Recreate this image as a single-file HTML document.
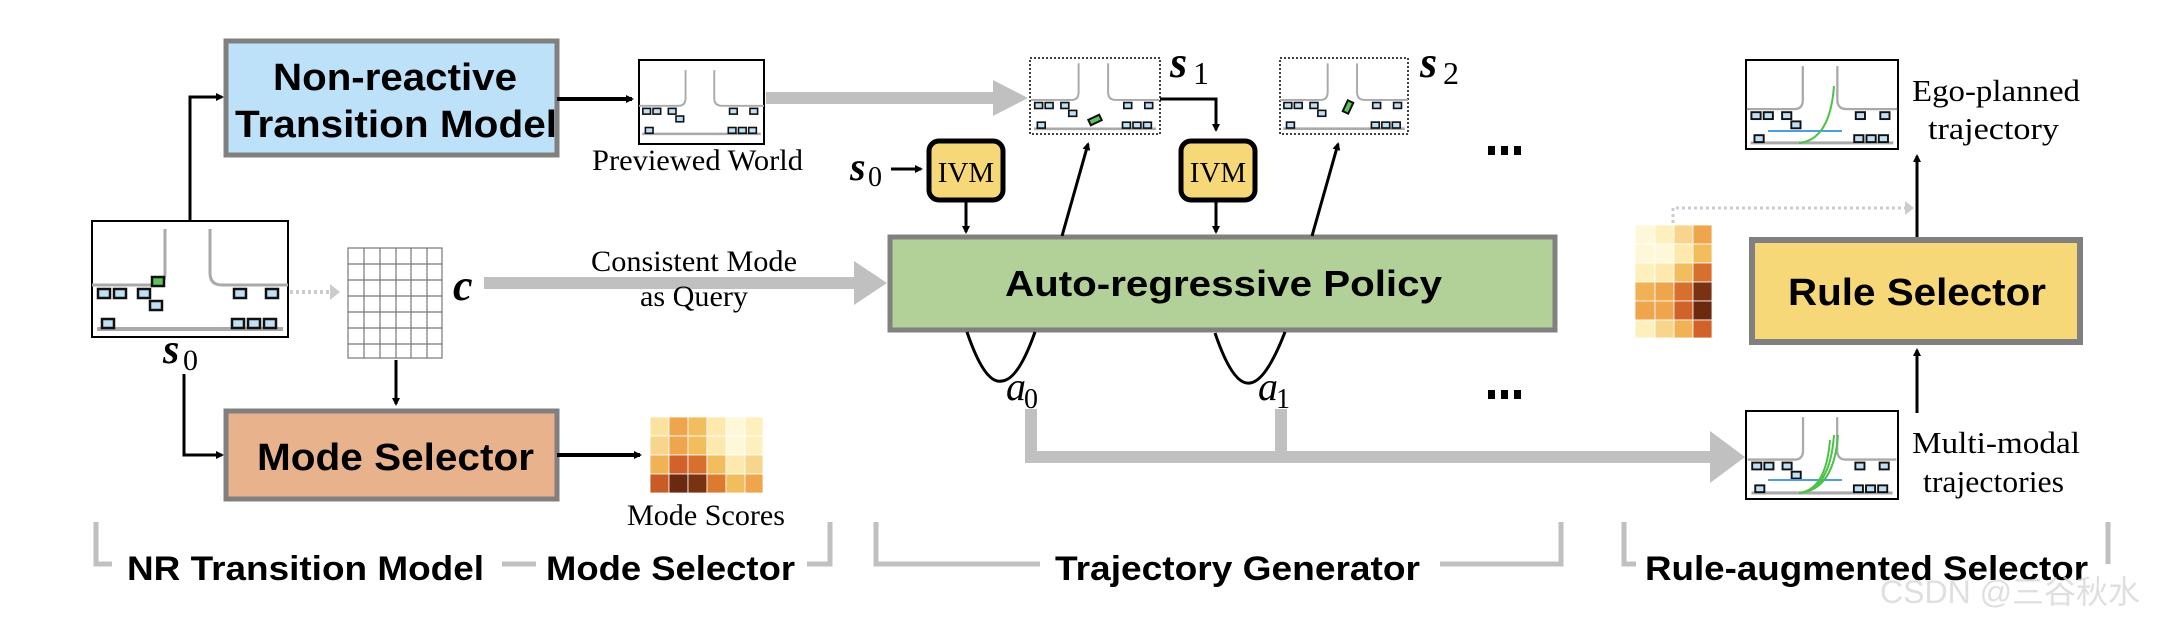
<!DOCTYPE html>
<html><head><meta charset="utf-8"><style>
html,body{margin:0;padding:0;background:#fff}
svg{display:block}
.bx{font-family:"Liberation Sans",sans-serif;font-weight:bold}
.sr{font-family:"Liberation Serif",serif}
</style></head><body>
<svg width="2168" height="620" viewBox="0 0 2168 620" xmlns="http://www.w3.org/2000/svg">
<defs>
<marker id="ah" markerWidth="8" markerHeight="8" refX="6" refY="4" orient="auto" markerUnits="userSpaceOnUse"><path d="M0,0 L8,4 L0,8 z" fill="#000"/></marker>
<symbol id="scene" viewBox="0 0 196 116">
<path d="M73,8 V52 Q73,64 62,64 H0" fill="none" stroke="#aaa" stroke-width="3"/>
<path d="M118,8 V52 Q118,64 130,64 H196" fill="none" stroke="#aaa" stroke-width="3"/>
<line x1="5" y1="108" x2="191" y2="108" stroke="#aaa" stroke-width="4"/>
<g fill="#bfe0f5" stroke="#111" stroke-width="2.5">
<rect x="6" y="68" width="12" height="9"/><rect x="22" y="68" width="12" height="9"/><rect x="46" y="68" width="12" height="9"/>
<rect x="142" y="68" width="12" height="9"/><rect x="174" y="68" width="12" height="9"/>
<rect x="58" y="80" width="12" height="9"/>
<rect x="10" y="98" width="12" height="9"/><rect x="140" y="98" width="12" height="9"/><rect x="156" y="98" width="12" height="9"/><rect x="172" y="98" width="12" height="9"/>
</g>
</symbol>
</defs>

<!-- NR box -->
<rect x="226" y="41" width="331" height="114" fill="#bde1f8" stroke="#808080" stroke-width="5"/>
<text class="bx" x="273" y="90" font-size="38" textLength="244" lengthAdjust="spacingAndGlyphs">Non-reactive</text>
<text class="bx" x="235" y="137" font-size="38" textLength="322" lengthAdjust="spacingAndGlyphs">Transition Model</text>

<!-- Mode selector box -->
<rect x="226" y="411" width="331" height="88" fill="#e8b38c" stroke="#808080" stroke-width="5"/>
<text class="bx" x="257" y="470" font-size="38" textLength="277" lengthAdjust="spacingAndGlyphs">Mode Selector</text>

<!-- s0 scene -->
<rect x="92" y="221" width="196" height="116" fill="#fff" stroke="#000" stroke-width="2"/>
<use href="#scene" x="92" y="221" width="196" height="116"/>
<rect x="152" y="277" width="12" height="9" fill="#5fc25a" stroke="#111" stroke-width="2.5"/>
<text class="sr" x="163" y="363" font-size="42" font-style="italic" font-weight="bold">s</text><text class="sr" x="183" y="370" font-size="30">0</text>

<!-- s0 connectors -->
<path d="M190,221 V97 H222" fill="none" stroke="#000" stroke-width="3" marker-end="url(#ah)"/>
<path d="M184,374 V455 H222" fill="none" stroke="#000" stroke-width="3" marker-end="url(#ah)"/>
<line x1="290" y1="292" x2="330" y2="292" stroke="#ccc" stroke-width="4" stroke-dasharray="3,3"/>
<path d="M330,284 L340,292 L330,300z" fill="#ccc"/>

<!-- grid -->
<g stroke="#777" stroke-width="1.2" fill="none">
<rect x="348" y="248" width="94" height="110"/>
<path d="M364,248V358M380,248V358M396,248V358M411,248V358M427,248V358"/>
<path d="M348,264H442M348,280H442M348,296H442M348,312H442M348,328H442M348,344H442"/>
</g>
<text class="sr" x="453" y="300" font-size="44" font-style="italic" font-weight="bold">c</text>

<line x1="396" y1="360" x2="396" y2="404" stroke="#000" stroke-width="3" marker-end="url(#ah)"/>

<line x1="557" y1="99" x2="632" y2="99" stroke="#000" stroke-width="4" marker-end="url(#ah)"/>
<line x1="557" y1="455" x2="640" y2="455" stroke="#000" stroke-width="4" marker-end="url(#ah)"/>

<!-- previewed world -->
<rect x="639" y="60" width="125" height="84" fill="#fff" stroke="#000" stroke-width="2"/>
<use href="#scene" x="639" y="60" width="125" height="84"/>
<text class="sr" x="592" y="170" font-size="30" textLength="211" lengthAdjust="spacingAndGlyphs">Previewed World</text>

<!-- mode scores -->
<g stroke="#fff" stroke-width="0.8">
<rect x="650" y="417" width="19" height="19" fill="#fbe2a0"/><rect x="669" y="417" width="19" height="19" fill="#eea54c"/><rect x="688" y="417" width="19" height="19" fill="#f2bd5c"/><rect x="707" y="417" width="19" height="19" fill="#fde9ad"/><rect x="726" y="417" width="19" height="19" fill="#fff8d8"/><rect x="745" y="417" width="18" height="19" fill="#fef0bd"/>
<rect x="650" y="436" width="19" height="19" fill="#f8d58c"/><rect x="669" y="436" width="19" height="19" fill="#eea54c"/><rect x="688" y="436" width="19" height="19" fill="#f2bd5c"/><rect x="707" y="436" width="19" height="19" fill="#fde9ad"/><rect x="726" y="436" width="19" height="19" fill="#fff8d8"/><rect x="745" y="436" width="18" height="19" fill="#fef0bd"/>
<rect x="650" y="455" width="19" height="19" fill="#f0b255"/><rect x="669" y="455" width="19" height="19" fill="#d0622a"/><rect x="688" y="455" width="19" height="19" fill="#d6702c"/><rect x="707" y="455" width="19" height="19" fill="#f2bd5c"/><rect x="726" y="455" width="19" height="19" fill="#fde9ad"/><rect x="745" y="455" width="18" height="19" fill="#f8d58c"/>
<rect x="650" y="474" width="19" height="19" fill="#c95c26"/><rect x="669" y="474" width="19" height="19" fill="#6b2a10"/><rect x="688" y="474" width="19" height="19" fill="#7a3312"/><rect x="707" y="474" width="19" height="19" fill="#dc7a30"/><rect x="726" y="474" width="19" height="19" fill="#f2bd5c"/><rect x="745" y="474" width="18" height="19" fill="#eea54c"/>
</g>
<text class="sr" x="627" y="525" font-size="30" textLength="158" lengthAdjust="spacingAndGlyphs">Mode Scores</text>

<!-- big gray arrows -->
<rect x="766" y="92" width="230" height="12" fill="#c0c0c0"/>
<path d="M993,80 L1028,98 L993,116z" fill="#c0c0c0"/>
<rect x="484" y="277" width="370" height="12" fill="#c0c0c0"/>
<path d="M854,261 L887,283 L854,305z" fill="#c0c0c0"/>
<text class="sr" x="591" y="271" font-size="30" textLength="206" lengthAdjust="spacingAndGlyphs">Consistent Mode</text>
<text class="sr" x="640" y="306" font-size="30" textLength="108" lengthAdjust="spacingAndGlyphs">as Query</text>

<!-- AR policy -->
<rect x="890" y="237" width="665" height="93" fill="#b2d198" stroke="#808080" stroke-width="5"/>
<text class="bx" x="1005" y="296" font-size="36" textLength="437" lengthAdjust="spacingAndGlyphs">Auto-regressive Policy</text>

<!-- IVM 1 -->
<text class="sr" x="850" y="180" font-size="40" font-style="italic" font-weight="bold">s</text><text class="sr" x="868" y="186" font-size="28">0</text>
<line x1="891" y1="169" x2="921" y2="169" stroke="#000" stroke-width="3" marker-end="url(#ah)"/>
<rect x="929" y="141" width="74" height="59" rx="10" fill="#f7d878" stroke="#000" stroke-width="5"/>
<text class="sr" x="966" y="182" font-size="29" text-anchor="middle">IVM</text>
<line x1="966" y1="200" x2="966" y2="232" stroke="#000" stroke-width="3" marker-end="url(#ah)"/>
<!-- IVM 2 -->
<path d="M1160,99 H1216 V130" fill="none" stroke="#000" stroke-width="3" marker-end="url(#ah)"/>
<rect x="1181" y="141" width="74" height="59" rx="10" fill="#f7d878" stroke="#000" stroke-width="5"/>
<text class="sr" x="1218" y="182" font-size="29" text-anchor="middle">IVM</text>
<line x1="1216" y1="200" x2="1216" y2="232" stroke="#000" stroke-width="3" marker-end="url(#ah)"/>

<!-- s1 s2 -->
<rect x="1030" y="58" width="130" height="76" fill="#fff" stroke="#000" stroke-width="1.5" stroke-dasharray="2,2"/>
<use href="#scene" x="1030" y="58" width="130" height="76"/>
<rect x="1089" y="117" width="12" height="6" fill="#5fc25a" stroke="#111" stroke-width="2" transform="rotate(-25 1095 120)"/>
<text class="sr" x="1170" y="77" font-size="44" font-style="italic" font-weight="bold">s</text><text class="sr" x="1193" y="84" font-size="32">1</text>
<rect x="1280" y="58" width="128" height="76" fill="#fff" stroke="#000" stroke-width="1.5" stroke-dasharray="2,2"/>
<use href="#scene" x="1280" y="58" width="128" height="76"/>
<rect x="1345" y="101" width="6" height="12" fill="#5fc25a" stroke="#111" stroke-width="2" transform="rotate(25 1348 107)"/>
<text class="sr" x="1420" y="77" font-size="44" font-style="italic" font-weight="bold">s</text><text class="sr" x="1443" y="84" font-size="32">2</text>

<line x1="1062" y1="236" x2="1088" y2="144" stroke="#000" stroke-width="3" marker-end="url(#ah)"/>
<line x1="1312" y1="236" x2="1338" y2="144" stroke="#000" stroke-width="3" marker-end="url(#ah)"/>

<g fill="#000"><rect x="1488" y="146" width="7" height="9"/><rect x="1501" y="146" width="7" height="9"/><rect x="1514" y="146" width="7" height="9"/>
<rect x="1488" y="390" width="7" height="9"/><rect x="1501" y="390" width="7" height="9"/><rect x="1514" y="390" width="7" height="9"/></g>

<path d="M967,332 Q985,385 1002,381 Q1018,380 1035,332" fill="none" stroke="#000" stroke-width="3"/>
<path d="M1215,333 Q1233,386 1250,383 Q1266,381 1285,332" fill="none" stroke="#000" stroke-width="3"/>
<text class="sr" x="1006" y="400" font-size="40" font-style="italic">a</text><text class="sr" x="1024" y="408" font-size="28">0</text>
<text class="sr" x="1258" y="400" font-size="40" font-style="italic">a</text><text class="sr" x="1276" y="408" font-size="28">1</text>

<rect x="1025" y="409" width="12" height="54" fill="#c0c0c0"/>
<rect x="1275" y="409" width="12" height="54" fill="#c0c0c0"/>
<rect x="1025" y="451" width="690" height="12" fill="#c0c0c0"/>
<path d="M1710,431 L1745,457 L1710,483z" fill="#c0c0c0"/>

<!-- right heatmap -->
<g stroke="#fff" stroke-width="0.8">
<rect x="1635" y="225" width="20" height="19" fill="#fff8d8"/><rect x="1655" y="225" width="19" height="19" fill="#fef0bd"/><rect x="1674" y="225" width="19" height="19" fill="#f8d58c"/><rect x="1693" y="225" width="19" height="19" fill="#eea54c"/>
<rect x="1635" y="244" width="20" height="19" fill="#fff8d8"/><rect x="1655" y="244" width="19" height="19" fill="#fff8d8"/><rect x="1674" y="244" width="19" height="19" fill="#fde9ad"/><rect x="1693" y="244" width="19" height="19" fill="#f2bd5c"/>
<rect x="1635" y="263" width="20" height="19" fill="#fef0bd"/><rect x="1655" y="263" width="19" height="19" fill="#fde9ad"/><rect x="1674" y="263" width="19" height="19" fill="#f2bd5c"/><rect x="1693" y="263" width="19" height="19" fill="#d6702c"/>
<rect x="1635" y="282" width="20" height="19" fill="#f0b255"/><rect x="1655" y="282" width="19" height="19" fill="#eea54c"/><rect x="1674" y="282" width="19" height="19" fill="#d6702c"/><rect x="1693" y="282" width="19" height="19" fill="#7a3312"/>
<rect x="1635" y="301" width="20" height="19" fill="#eea54c"/><rect x="1655" y="301" width="19" height="19" fill="#eea54c"/><rect x="1674" y="301" width="19" height="19" fill="#d0622a"/><rect x="1693" y="301" width="19" height="19" fill="#6b2a10"/>
<rect x="1635" y="320" width="20" height="18" fill="#fef0bd"/><rect x="1655" y="320" width="19" height="18" fill="#f8d58c"/><rect x="1674" y="320" width="19" height="18" fill="#f0b255"/><rect x="1693" y="320" width="19" height="18" fill="#d0622a"/>
</g>
<path d="M1673,223 V208 H1905" fill="none" stroke="#ccc" stroke-width="3" stroke-dasharray="3,3"/>
<path d="M1905,201 L1914,208 L1905,215z" fill="#ccc"/>

<!-- Rule selector -->
<rect x="1752" y="240" width="328" height="102" fill="#f7d878" stroke="#808080" stroke-width="6"/>
<text class="bx" x="1788" y="305" font-size="38" textLength="258" lengthAdjust="spacingAndGlyphs">Rule Selector</text>
<line x1="1917" y1="237" x2="1917" y2="156" stroke="#000" stroke-width="3" marker-end="url(#ah)"/>
<line x1="1917" y1="413" x2="1917" y2="350" stroke="#000" stroke-width="3" marker-end="url(#ah)"/>

<!-- Ego-planned -->
<rect x="1746" y="60" width="152" height="89" fill="#fff" stroke="#000" stroke-width="2"/>
<use href="#scene" x="1746" y="60" width="152" height="89"/>
<line x1="1842" y1="131" x2="1768" y2="131" stroke="#4a9fe0" stroke-width="2"/>
<path d="M1799,143 Q1830,140 1834,86" fill="none" stroke="#4cc24a" stroke-width="2"/>
<text class="sr" x="1912" y="101" font-size="31" textLength="168" lengthAdjust="spacingAndGlyphs">Ego-planned</text>
<text class="sr" x="1928" y="139" font-size="31" textLength="131" lengthAdjust="spacingAndGlyphs">trajectory</text>

<!-- Multi-modal -->
<rect x="1746" y="411" width="152" height="88" fill="#fff" stroke="#000" stroke-width="2"/>
<use href="#scene" x="1746" y="411" width="152" height="88"/>
<line x1="1842" y1="480" x2="1768" y2="480" stroke="#4a9fe0" stroke-width="2"/>
<path d="M1799,493 Q1830,490 1834,435 M1799,493 Q1834,490 1838,435 M1799,493 Q1826,490 1830,440" fill="none" stroke="#4cc24a" stroke-width="2"/>
<text class="sr" x="1912" y="453" font-size="31" textLength="168" lengthAdjust="spacingAndGlyphs">Multi-modal</text>
<text class="sr" x="1923" y="492" font-size="31" textLength="141" lengthAdjust="spacingAndGlyphs">trajectories</text>

<!-- bottom brackets -->
<g fill="none" stroke="#c0c0c0" stroke-width="5">
<path d="M96,522 V564 H112"/>
<path d="M502,564 H536"/>
<path d="M807,564 H830 V522"/>
<path d="M876,522 V564 H1040"/>
<path d="M1440,564 H1561 V522"/>
<path d="M1624,522 V564 H1636"/>
<path d="M2108,522 V564"/>
</g>
<g class="bx" font-size="34">
<text x="127" y="580" textLength="357" lengthAdjust="spacingAndGlyphs">NR Transition Model</text>
<text x="546" y="580" textLength="249" lengthAdjust="spacingAndGlyphs">Mode Selector</text>
<text x="1055" y="580" textLength="365" lengthAdjust="spacingAndGlyphs">Trajectory Generator</text>
<text x="1645" y="580" textLength="443" lengthAdjust="spacingAndGlyphs">Rule-augmented Selector</text>
</g>
<text x="1880" y="603" font-family="Liberation Sans, Noto Sans CJK SC, sans-serif" font-size="32" fill="#d8d8d8" opacity="0.8">CSDN @三谷秋水</text>
</svg>
</body></html>
